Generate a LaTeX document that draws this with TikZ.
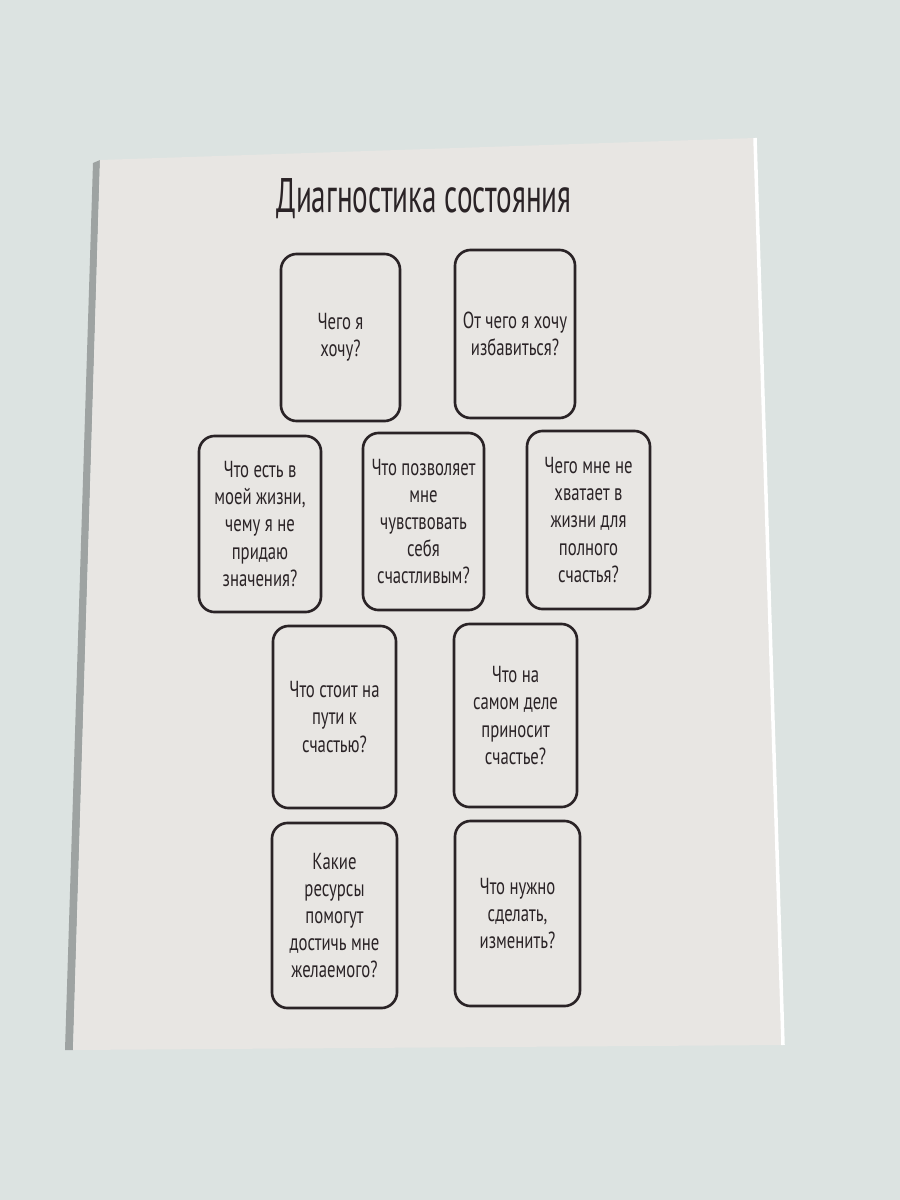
\documentclass[tikz,border=0pt]{standalone}
\usepackage{fontspec}
\usepackage{xcolor}
\usetikzlibrary{positioning}
\setmainfont{PT Sans}
\newfontfamily\cardfont{PT Sans}[FakeStretch=0.72]
\newfontfamily\titlefont{PT Sans}[FakeStretch=0.6]
\definecolor{desk}{HTML}{DCE3E1}
\definecolor{paper}{HTML}{E8E6E3}
\definecolor{edge}{HTML}{5E6664}
\definecolor{ink}{HTML}{2A2326}

\begin{document}
\begin{tikzpicture}[
  x=0.01cm, y=-0.01cm,
  qcard/.style={draw=ink, line width=0.75pt, rounded corners=4.5pt, fill=paper, align=center, text=ink, inner sep=1pt, font=\cardfont\fontsize{6.6}{7.7}\selectfont},
]

% desk and card
\useasboundingbox (0,0) rectangle (900,1200);
\fill[desk] (0,0) rectangle (900,1200);
\fill[edge!60] (93,163) -- (100,160) -- (73,1050) -- (65,1050) -- cycle;
\fill[paper] (100,160) -- (755,138) -- (783,1045) -- (73,1050) -- cycle;
\draw[white, line width=1pt] (755,138) -- (783,1045);

\node[text=ink, font=\titlefont\fontsize{13.8}{15}\selectfont] (title) at (424,199) {Диагностика состояния};

% first row
\node[qcard, minimum width=1.19cm, minimum height=1.67cm] (want) at (340.5,337.5) {Чего я\\хочу?};
\node[qcard, minimum width=1.20cm, minimum height=1.68cm] (riddance) at (515,334) {От чего я хочу\\избавиться?};

% second row
\node[qcard, minimum width=1.22cm, minimum height=1.76cm] (unnoticed) at (260,524) {Что есть в\\моей жизни,\\чему я не\\придаю\\значения?};
\node[qcard, minimum width=1.21cm, minimum height=1.77cm] (happyfeel) at (423.5,521.5) {Что позволяет\\мне\\чувствовать\\себя\\счастливым?};
\node[qcard, minimum width=1.23cm, minimum height=1.78cm] (lack) at (588.5,520) {Чего мне не\\хватает в\\жизни для\\полного\\счастья?};

% third row
\node[qcard, minimum width=1.23cm, minimum height=1.82cm] (obstacle) at (334.5,717) {Что стоит на\\пути к\\счастью?};
\node[qcard, minimum width=1.23cm, minimum height=1.83cm] (truehappy) at (515.5,715.5) {Что на\\самом деле\\приносит\\счастье?};

% fourth row
\node[qcard, minimum width=1.25cm, minimum height=1.85cm] (resources) at (334.5,915.5) {Какие\\ресурсы\\помогут\\достичь мне\\желаемого?};
\node[qcard, minimum width=1.25cm, minimum height=1.85cm] (change) at (517.5,913.5) {Что нужно\\сделать,\\изменить?};

\end{tikzpicture}
\end{document}
